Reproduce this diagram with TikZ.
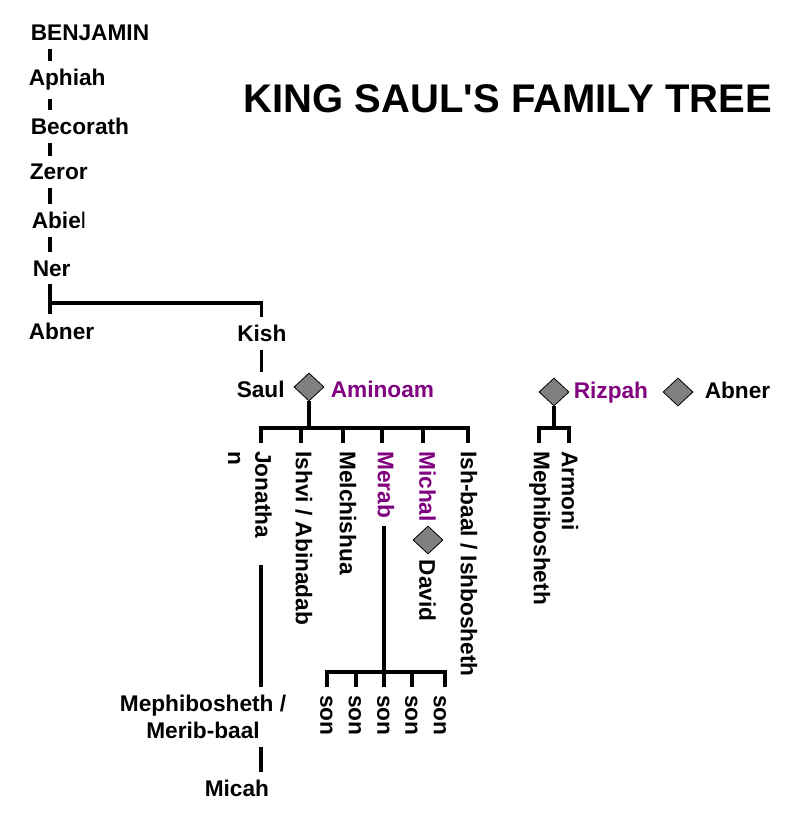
\documentclass[tikz,border=0pt]{standalone}
\usepackage{fontspec}
\setmainfont{Liberation Sans}
\usepackage{tikz}
\usetikzlibrary{positioning}
\usetikzlibrary{shapes.geometric}
\usetikzlibrary{calc}
\definecolor{wifepurple}{RGB}{128,0,128}
\definecolor{knotgray}{RGB}{128,128,128}

\begin{document}
\begin{tikzpicture}[
                      x=0.75pt, y=-0.75pt,
                      every node/.style={font=\fontsize{17}{20.4}\selectfont\bfseries, inner xsep=0pt, inner ysep=6pt},
                      wife/.style={text=wifepurple},
                      kid/.style={rotate=-90, anchor=west, inner xsep=6pt, inner ysep=0pt, text depth=0pt},
                      knot/.style={diamond, draw=black, line width=0.6pt, fill=knotgray, minimum width=22.5pt, minimum height=21pt, inner sep=0pt},
                      bond/.style={line width=2.4pt}
                  ]
                  \useasboundingbox (0,0) rectangle (804,827);
                  \node[anchor=base west, font=\fontsize{30}{36}\selectfont\bfseries] at (243.5,112.7) (title) {KING SAUL\textquotesingle S FAMILY TREE};
                  % line of Benjamin
                  \node[anchor=base west] at (30.5,40.7) (benjamin) {BENJAMIN};
                  \node[anchor=base west] at (28.5,86) (aphiah) {Aphiah};
                  \node[anchor=base west] at (30.5,135) (becorath) {Becorath};
                  \node[anchor=base west] at (29.5,180) (zeror) {Zeror};
                  \node[anchor=base west] at (31.5,228.7) (abiel) {Abie{\mdseries l}};
                  \node[anchor=base west] at (32.5,276) (ner) {Ner};
                  \node[anchor=base west] at (28.5,339) (abner) {Abner};
                  \node[anchor=base west] at (237,341.7) (kish) {Kish};
                  \coordinate (spine) at (50,0);
                  \coordinate (nerfork) at (50,303);
                  \draw[bond] (benjamin.south -| spine) -- (aphiah.north -| spine);
                  \draw[bond] (aphiah.south -| spine) -- (becorath.north -| spine);
                  \draw[bond] (becorath.south -| spine) -- (zeror.north -| spine);
                  \draw[bond] (zeror.south -| spine) -- (abiel.north -| spine);
                  \draw[bond] (abiel.south -| spine) -- (ner.north -| spine);
                  \draw[bond] (ner.south -| spine) -- (abner.north -| spine);
                  \draw[bond] (nerfork) -| (kish.north);
                  % Saul and Aminoam
                  \node[anchor=base west] at (236.5,397) (saul) {Saul};
                  \node[knot] at (309,387) (m1) {};
                  \node[wife, anchor=base west] at (330.5,397) (aminoam) {Aminoam};
                  \draw[bond] (kish.south) -- (kish.south |- saul.north);
                  \coordinate (k1) at (261,428);
                  \coordinate (k2) at (301,428);
                  \coordinate (k3) at (343,428);
                  \coordinate (k4) at (382,428);
                  \coordinate (k5) at (423,428);
                  \coordinate (k6) at (468,428);
                  \node[kid, anchor=north west, align=left] at (272,443) (jon) {Jonatha\\n};
                  \node[kid] at (304,443) (ishvi) {Ishvi / Abinadab};
                  \node[kid] at (348,443) (melchishua) {Melchishua};
                  \node[kid, wife] at (386,443) (merab) {Merab};
                  \node[kid, wife] at (427.5,443) (michal) {Michal};
                  \node[kid] at (469,443) (ishbaal) {Ish-baal / Ishbosheth};
                  \node[knot] at (428,540) (m4) {};
                  \node[kid, inner xsep=2pt] at (427.5,557) (david) {David};
                  \draw[bond] (m1.south) -- (m1.south |- k1);
                  \draw[bond] (jon.west -| k1) -- (k1) -- (k6) -- (ishbaal.west -| k6);
                  \draw[bond] (k2) -- (k2 |- ishvi.west);
                  \draw[bond] (k3) -- (k3 |- melchishua.west);
                  \draw[bond] (k4) -- (k4 |- merab.west);
                  \draw[bond] (k5) -- (k5 |- michal.west);
                  % Jonathan's line
                  \node[align=center, anchor=north] at (203,687) (mephib) {Mephibosheth /\\Merib-baal};
                  \node[anchor=base west] at (204.5,796.7) (micah) {Micah};
                  \draw[bond, shorten <=14pt] (jon.east -| k1) -- (mephib.north -| k1);
                  \draw[bond] (mephib.south -| k1) -- (micah.north -| k1);
                  % Merab's sons
                  \coordinate (s1) at (327,672);
                  \coordinate (s2) at (356,672);
                  \coordinate (s3) at (384,672);
                  \coordinate (s4) at (412,672);
                  \coordinate (s5) at (445,672);
                  \node[kid] at (326.5,687) (son1) {son};
                  \node[kid] at (355,687) (son2) {son};
                  \node[kid] at (383.5,687) (son3) {son};
                  \node[kid] at (411.5,687) (son4) {son};
                  \node[kid] at (440,687) (son5) {son};
                  \draw[bond] (merab.east -| s3) -- (s3 |- son3.west);
                  \draw[bond] (son1.west -| s1) -- (s1) -- (s5) -- (son5.west -| s5);
                  \draw[bond] (s2) -- (s2 |- son2.west);
                  \draw[bond] (s4) -- (s4 |- son4.west);
                  % Rizpah
                  \node[knot] at (554,392) (m2) {};
                  \node[wife, anchor=base west] at (573.5,398) (rizpah) {Rizpah};
                  \node[knot] at (678,392) (m3) {};
                  \node[anchor=base west] at (704.5,398) (abner2) {Abner};
                  \coordinate (r1) at (539,428);
                  \coordinate (r2) at (569,428);
                  \node[kid] at (542,443) (meph) {Mephibosheth};
                  \node[kid] at (570,443) (armoni) {Armoni};
                  \draw[bond] (m2.south) -- (m2.south |- r1);
                  \draw[bond] (meph.west -| r1) -- (r1) -- (r2) -- (armoni.west -| r2);
              \end{tikzpicture}
\end{document}
